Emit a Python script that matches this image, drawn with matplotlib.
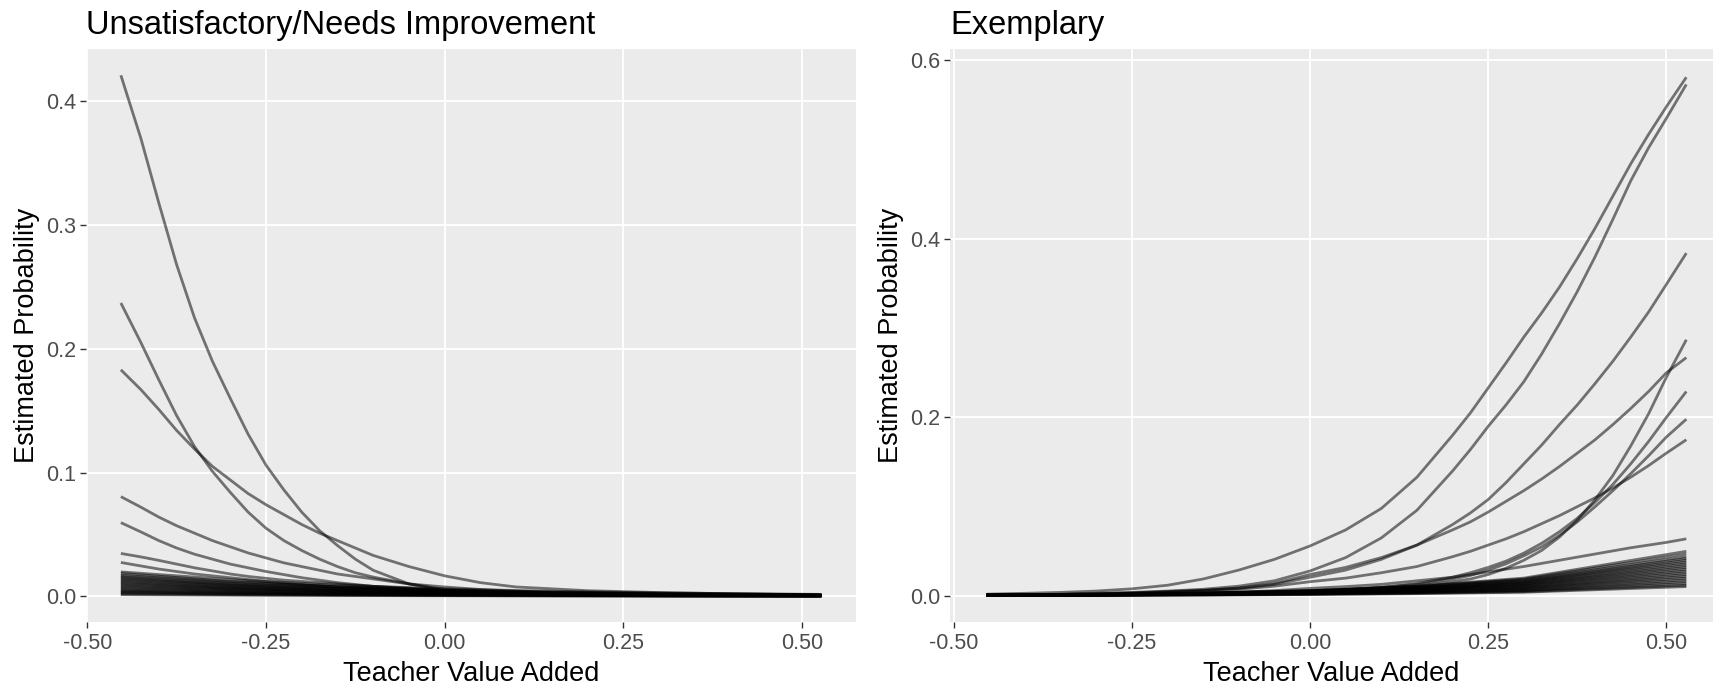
import matplotlib
matplotlib.use("Agg")
import matplotlib.pyplot as plt

plt.rcParams["font.family"] = ["Liberation Sans", "DejaVu Sans"]

# ---- Unsatisfactory / Needs Improvement panel -------------------------------
X_LEFT = [-0.453, -0.425, -0.4, -0.375, -0.35, -0.325, -0.3, -0.275, -0.25, -0.225,
          -0.2, -0.175, -0.15, -0.125, -0.1, -0.05, 0.0, 0.05, 0.1, 0.2, 0.3, 0.4, 0.527]

UNSAT_A = [0.421, 0.370, 0.318, 0.268, 0.225, 0.190, 0.160, 0.131, 0.106, 0.086,
           0.068, 0.053, 0.041, 0.030, 0.021, 0.010, 0.0045, 0.0025, 0.0015, 0.0007,
           0.0004, 0.0002, 0.0001]
UNSAT_B = [0.237, 0.205, 0.175, 0.146, 0.121, 0.101, 0.084, 0.068, 0.055, 0.045,
           0.037, 0.030, 0.024, 0.019, 0.0155, 0.010, 0.0055, 0.0035, 0.0022, 0.001,
           0.0005, 0.0003, 0.0002]
UNSAT_C = [0.183, 0.167, 0.151, 0.134, 0.119, 0.105, 0.094, 0.083, 0.074, 0.066,
           0.058, 0.051, 0.045, 0.039, 0.033, 0.024, 0.0165, 0.011, 0.0075, 0.0045,
           0.003, 0.002, 0.001]
UNSAT_D = [0.0805, 0.072, 0.064, 0.057, 0.051, 0.045, 0.040, 0.035, 0.031, 0.027,
           0.024, 0.021, 0.018, 0.016, 0.014, 0.010, 0.0075, 0.0055, 0.004, 0.0025,
           0.0015, 0.001, 0.0006]
UNSAT_E = [0.0595, 0.052, 0.045, 0.039, 0.034, 0.030, 0.026, 0.023, 0.020, 0.0175,
           0.015, 0.013, 0.011, 0.0095, 0.008, 0.006, 0.0045, 0.0035, 0.0025, 0.0015,
           0.001, 0.0006, 0.0004]
UNSAT_F = [0.0346, 0.0318, 0.029, 0.026, 0.023, 0.0205, 0.018, 0.016, 0.0145, 0.013,
           0.012, 0.011, 0.010, 0.009, 0.008, 0.0065, 0.005, 0.004, 0.003, 0.002,
           0.0015, 0.001, 0.0008]
UNSAT_G = [0.0273, 0.0245, 0.022, 0.020, 0.018, 0.0165, 0.015, 0.0135, 0.012, 0.0107,
           0.0095, 0.0085, 0.0075, 0.0068, 0.006, 0.005, 0.004, 0.003, 0.0025, 0.0017,
           0.0012, 0.0008, 0.0006]

# the dense band of low-probability schools near zero
X_LEFT_BAND = [-0.453, -0.3, -0.15, 0.0, 0.15, 0.3, 0.527]
UNSAT_BAND = [
    [0.0197, 0.0135, 0.009, 0.006, 0.004, 0.0027, 0.0015],
    [0.0185, 0.012, 0.0075, 0.0048, 0.003, 0.002, 0.001],
    [0.017, 0.0115, 0.0078, 0.0052, 0.0035, 0.0024, 0.0013],
    [0.016, 0.0105, 0.0068, 0.0044, 0.0029, 0.0019, 0.001],
    [0.015, 0.0095, 0.006, 0.0038, 0.0024, 0.0015, 0.0008],
    [0.014, 0.0092, 0.006, 0.004, 0.0026, 0.0017, 0.0009],
    [0.013, 0.0085, 0.0055, 0.0036, 0.0023, 0.0015, 0.0008],
    [0.012, 0.0075, 0.0047, 0.003, 0.0019, 0.0012, 0.0006],
    [0.011, 0.0072, 0.0047, 0.003, 0.002, 0.0013, 0.0007],
    [0.010, 0.0064, 0.0041, 0.0026, 0.0017, 0.0011, 0.0006],
    [0.009, 0.0059, 0.0039, 0.0025, 0.0016, 0.0011, 0.0006],
    [0.008, 0.0052, 0.0034, 0.0022, 0.0014, 0.0009, 0.0005],
    [0.007, 0.0046, 0.003, 0.002, 0.0013, 0.0008, 0.0004],
    [0.006, 0.004, 0.0026, 0.0017, 0.0011, 0.0007, 0.0004],
    [0.005, 0.0033, 0.0022, 0.0014, 0.0009, 0.0006, 0.0003],
    [0.0042, 0.0028, 0.0018, 0.0012, 0.0008, 0.0005, 0.0003],
    [0.0035, 0.0023, 0.0015, 0.001, 0.0006, 0.0004, 0.0002],
    [0.0028, 0.0018, 0.0012, 0.0008, 0.0005, 0.0003, 0.0002],
    [0.002, 0.0013, 0.0009, 0.0006, 0.0004, 0.0002, 0.0001],
    [0.0013, 0.0009, 0.0006, 0.0004, 0.0002, 0.0001, 0.0001],
]

# ---- Exemplary panel --------------------------------------------------------
X_RIGHT = [-0.454, -0.4, -0.35, -0.3, -0.25, -0.2, -0.15, -0.1, -0.05, 0.0,
           0.05, 0.1, 0.15, 0.2, 0.225, 0.25, 0.275, 0.3, 0.325, 0.35, 0.375,
           0.4, 0.425, 0.45, 0.475, 0.5, 0.528]

EXEMP_1 = [0.002, 0.003, 0.004, 0.0055, 0.008, 0.012, 0.019, 0.029, 0.041, 0.056,
           0.074, 0.098, 0.133, 0.180, 0.205, 0.233, 0.261, 0.290, 0.317, 0.346, 0.378,
           0.412, 0.448, 0.484, 0.517, 0.548, 0.581]
EXEMP_2 = [0.001, 0.0015, 0.002, 0.003, 0.004, 0.0055, 0.0075, 0.011, 0.017, 0.028,
           0.043, 0.065, 0.096, 0.140, 0.164, 0.190, 0.214, 0.240, 0.271, 0.305, 0.341,
           0.380, 0.422, 0.465, 0.502, 0.535, 0.573]
EXEMP_3 = [0.001, 0.0013, 0.0017, 0.0025, 0.0035, 0.005, 0.0065, 0.0085, 0.013, 0.021,
           0.029, 0.041, 0.057, 0.080, 0.093, 0.108, 0.127, 0.148, 0.169, 0.192, 0.214,
           0.238, 0.263, 0.290, 0.318, 0.349, 0.384]
EXEMP_4 = [0.0005, 0.0006, 0.0008, 0.001, 0.0013, 0.0017, 0.0022, 0.003, 0.004, 0.005,
           0.0065, 0.0085, 0.011, 0.016, 0.019, 0.024, 0.031, 0.040, 0.051, 0.066, 0.085,
           0.108, 0.135, 0.168, 0.204, 0.245, 0.287]
EXEMP_5 = [0.0008, 0.001, 0.0013, 0.002, 0.003, 0.0045, 0.006, 0.009, 0.014, 0.024,
           0.032, 0.043, 0.057, 0.074, 0.083, 0.094, 0.106, 0.118, 0.131, 0.145, 0.160,
           0.175, 0.192, 0.210, 0.229, 0.250, 0.267]
EXEMP_6 = [0.0005, 0.0006, 0.0008, 0.001, 0.0013, 0.0017, 0.0022, 0.003, 0.004, 0.0052,
           0.007, 0.0095, 0.014, 0.021, 0.026, 0.032, 0.039, 0.048, 0.059, 0.072, 0.087,
           0.105, 0.125, 0.148, 0.173, 0.200, 0.229]
EXEMP_7 = [0.0006, 0.0007, 0.0009, 0.0011, 0.0014, 0.0018, 0.0024, 0.0032, 0.0042, 0.0055,
           0.0072, 0.0098, 0.013, 0.019, 0.023, 0.029, 0.036, 0.045, 0.055, 0.068, 0.083,
           0.100, 0.118, 0.137, 0.157, 0.178, 0.198]
EXEMP_8 = [0.001, 0.0013, 0.0017, 0.0022, 0.003, 0.004, 0.0055, 0.0075, 0.011, 0.016,
           0.020, 0.026, 0.033, 0.044, 0.050, 0.057, 0.064, 0.072, 0.081, 0.090, 0.100,
           0.110, 0.121, 0.133, 0.146, 0.160, 0.175]
EXEMP_9 = [0.0008, 0.001, 0.0012, 0.0015, 0.0019, 0.0024, 0.003, 0.0042, 0.006, 0.0085,
           0.0105, 0.013, 0.017, 0.021, 0.024, 0.027, 0.030, 0.033, 0.0365, 0.040, 0.0435,
           0.047, 0.0505, 0.054, 0.057, 0.060, 0.064]

X_RIGHT_BAND = [-0.454, -0.3, -0.15, 0.0, 0.15, 0.3, 0.528]
EXEMP_BAND = [
    [0.001, 0.0018, 0.0033, 0.006, 0.011, 0.020, 0.050],
    [0.0009, 0.0017, 0.0031, 0.0057, 0.0105, 0.019, 0.047],
    [0.0012, 0.002, 0.0035, 0.006, 0.0105, 0.018, 0.044],
    [0.001, 0.0017, 0.003, 0.0053, 0.0095, 0.017, 0.042],
    [0.0008, 0.0014, 0.0026, 0.0048, 0.0088, 0.016, 0.040],
    [0.0011, 0.0018, 0.0031, 0.0053, 0.009, 0.0155, 0.038],
    [0.0009, 0.0015, 0.0027, 0.0047, 0.0082, 0.0145, 0.036],
    [0.0007, 0.0013, 0.0023, 0.0042, 0.0075, 0.0135, 0.034],
    [0.001, 0.0016, 0.0027, 0.0046, 0.0078, 0.013, 0.032],
    [0.0008, 0.0013, 0.0023, 0.004, 0.007, 0.012, 0.030],
    [0.0006, 0.0011, 0.002, 0.0036, 0.0064, 0.0113, 0.028],
    [0.0009, 0.0014, 0.0023, 0.0038, 0.0063, 0.0105, 0.026],
    [0.0007, 0.0012, 0.002, 0.0033, 0.0056, 0.0095, 0.024],
    [0.0006, 0.001, 0.0017, 0.003, 0.005, 0.0088, 0.022],
    [0.0008, 0.0012, 0.0019, 0.0031, 0.005, 0.0082, 0.020],
    [0.0006, 0.001, 0.0016, 0.0026, 0.0043, 0.0072, 0.018],
    [0.0005, 0.0008, 0.0013, 0.0022, 0.0037, 0.0063, 0.016],
    [0.0007, 0.001, 0.0015, 0.0023, 0.0036, 0.0058, 0.014],
    [0.0005, 0.0008, 0.0012, 0.0019, 0.003, 0.0048, 0.012],
    [0.0004, 0.0006, 0.001, 0.0016, 0.0026, 0.0042, 0.0105],
]

X_TICKS = [-0.50, -0.25, 0.00, 0.25, 0.50]
LEFT_YTICKS = [0.0, 0.1, 0.2, 0.3, 0.4]
RIGHT_YTICKS = [0.0, 0.2, 0.4, 0.6]

W, H = 1716, 689
LINE_KW = dict(color="black", alpha=0.52, lw=2.0, solid_capstyle="butt")


def style_panel(ax, title, xlim, ylim, yticks, ylabels):
    ax.set_facecolor("#EBEBEB")
    for s in ax.spines.values():
        s.set_visible(False)
    ax.set_xlim(*xlim)
    ax.set_ylim(*ylim)
    ax.set_xticks(X_TICKS)
    ax.set_xticklabels([f"{t:.2f}" for t in X_TICKS])
    ax.set_yticks(yticks)
    ax.set_yticklabels(ylabels)
    ax.grid(True, color="white", lw=1.3)
    ax.set_axisbelow(True)
    ax.tick_params(axis="both", colors="#333333", length=4.5, width=1.0,
                   labelsize=15.5, labelcolor="#4D4D4D")
    ax.tick_params(axis="x", pad=3.6)
    ax.tick_params(axis="y", pad=2.5)
    ax.set_xlabel("Teacher Value Added", fontsize=19.5, labelpad=5)
    ax.set_ylabel("Estimated Probability", fontsize=19.5, labelpad=4)
    ax.set_title(title, loc="left", fontsize=23.5, pad=11)


fig = plt.figure(figsize=(W / 100, H / 100), dpi=100)
ax1 = fig.add_axes([85.7 / W, 1 - 621.5 / H, (856.4 - 85.7) / W, (621.5 - 49.3) / H])
ax2 = fig.add_axes([950.0 / W, 1 - 621.5 / H, (1712.7 - 950.0) / W, (621.5 - 49.3) / H])

for ys in UNSAT_BAND:
    ax1.plot(X_LEFT_BAND, ys, **LINE_KW)
for ys in [UNSAT_G, UNSAT_F, UNSAT_E, UNSAT_D, UNSAT_C, UNSAT_B, UNSAT_A]:
    ax1.plot(X_LEFT, ys, **LINE_KW)

for ys in EXEMP_BAND:
    ax2.plot(X_RIGHT_BAND, ys, **LINE_KW)
for ys in [EXEMP_9, EXEMP_8, EXEMP_7, EXEMP_6, EXEMP_5, EXEMP_4, EXEMP_3, EXEMP_2, EXEMP_1]:
    ax2.plot(X_RIGHT, ys, **LINE_KW)

style_panel(ax1, "Unsatisfactory/Needs Improvement", (-0.5022, 0.576), (-0.0204, 0.442),
            LEFT_YTICKS, [f"{t:.1f}" for t in LEFT_YTICKS])
style_panel(ax2, "Exemplary", (-0.5052, 0.565), (-0.0286, 0.6123),
            RIGHT_YTICKS, [f"{t:.1f}" for t in RIGHT_YTICKS])

fig.savefig("out.png", dpi=100, facecolor="white")
